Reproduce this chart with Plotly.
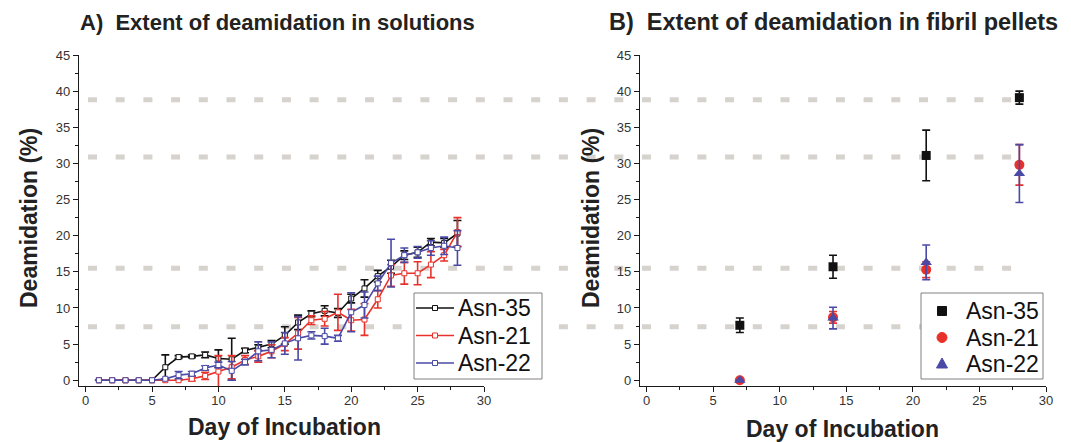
import plotly.graph_objects as go

# ---------------- data ----------------
days = list(range(1, 29))

asn35_sol = [0, 0, 0, 0, 0, 1.8, 3.2, 3.3, 3.5, 3.0, 2.9, 4.1, 4.5, 5.0, 6.2, 8.0, 9.2, 9.6, 9.3, 11.3, 12.7, 14.4, 15.7, 17.3, 17.7, 19.1, 19.0, 20.3]
asn35_sol_err = [0, 0, 0, 0, 0, 1.7, 0.2, 0.2, 0.4, 1.2, 2.9, 0.3, 0.4, 0.5, 1.2, 1.0, 0.4, 0.7, 0.6, 0.6, 1.2, 0.8, 0.9, 0.6, 0.7, 0.5, 0.6, 1.8]

asn21_sol = [0, 0, 0, 0, 0, 0, 0, 0.2, 0.6, 1.2, 1.8, 2.8, 3.3, 4.0, 5.0, 6.5, 8.3, 8.5, 9.4, 8.3, 8.4, 11.2, 14.5, 14.8, 14.8, 16.0, 17.3, 20.5]
asn21_sol_err = [0, 0, 0, 0, 0, 0, 0, 0.3, 0.5, 2.2, 1.6, 0.6, 0.8, 0.9, 0.9, 2.2, 0.6, 1.0, 2.5, 1.5, 2.2, 1.2, 1.5, 1.5, 1.6, 1.8, 0.8, 2.0]

asn22_sol = [0, 0, 0, 0, 0, 0.2, 0.7, 0.9, 1.7, 2.1, 1.3, 2.5, 4.0, 4.2, 5.1, 5.8, 6.2, 6.1, 5.8, 9.4, 10.4, 13.4, 16.2, 17.3, 17.7, 18.3, 18.6, 18.3]
asn22_sol_err = [0, 0, 0, 0, 0, 0, 0.5, 0.3, 0.3, 0.4, 1.3, 0.4, 1.3, 1.1, 1.5, 3.0, 0.5, 1.1, 0.4, 2.7, 1.8, 1.0, 3.3, 1.0, 0.8, 1.0, 1.2, 2.4]

pellet_days = [7, 14, 21, 28]
asn35_pel = [7.6, 15.7, 31.1, 39.1]
asn35_pel_err = [1.0, 1.6, 3.5, 0.9]
asn21_pel = [0.0, 8.7, 15.3, 29.8]
asn21_pel_err = [0.0, 0.8, 1.1, 2.8]
asn22_pel = [0.0, 8.6, 16.3, 28.6]
asn22_pel_err = [0.0, 1.5, 2.4, 4.0]

ref_levels = [7.4, 15.5, 30.9, 38.8]

series_names = ["Asn-35", "Asn-21", "Asn-22"]
colors = ["#111111", "#e8312a", "#4a4aa6"]

# ---------------- layout geometry ----------------
W, H = 1071, 442
ML, MR, MT, MB = 79, 25, 55, 56
PW = W - ML - MR
PH = H - MT - MB


def px_x(p):
    return (p - ML) / PW


def px_y(p):
    return (H - MB - p) / PH


FONT = "Liberation Sans, Arial, sans-serif"

fig = go.Figure()

sol_vals = [asn35_sol, asn21_sol, asn22_sol]
sol_errs = [asn35_sol_err, asn21_sol_err, asn22_sol_err]
for name, c, v, e in zip(series_names, colors, sol_vals, sol_errs):
    fig.add_trace(go.Scatter(
        x=days, y=v, name=name, mode="lines+markers",
        line=dict(color=c, width=1.6),
        marker=dict(symbol="square", size=5, color="white", line=dict(color=c, width=1)),
        error_y=dict(type="data", array=e, visible=True, color=c, thickness=1.6, width=4),
        xaxis="x", yaxis="y", showlegend=False,
    ))

pel_vals = [asn35_pel, asn21_pel, asn22_pel]
pel_errs = [asn35_pel_err, asn21_pel_err, asn22_pel_err]
symbols = ["square", "circle", "triangle-up"]
sizes = [9, 10, 10]
for name, c, v, e, s, sz in zip(series_names, colors, pel_vals, pel_errs, symbols, sizes):
    fig.add_trace(go.Scatter(
        x=pellet_days, y=v, name=name, mode="markers",
        marker=dict(symbol=s, size=sz, color=c),
        error_y=dict(type="data", array=e, visible=True, color=c, thickness=1.6, width=4),
        xaxis="x2", yaxis="y2", showlegend=False,
    ))

for lv in ref_levels:
    fig.add_shape(type="line", xref="paper", yref="y", x0=px_x(88), x1=px_x(1012), y0=lv, y1=lv,
                  line=dict(color="#d6d2ce", width=5, dash="9px,18.7px"), layer="below")

# ---------------- legends (drawn as boxes + keys + text) ----------------
LEG_FONT = dict(family=FONT, size=23, color="#111111")


def legend_box(x0, y0, x1, y1):
    fig.add_shape(type="rect", xref="paper", yref="paper",
                  x0=px_x(x0), x1=px_x(x1), y0=px_y(y1), y1=px_y(y0),
                  line=dict(color="#808080", width=1), fillcolor="white", layer="above")


def pix_shape(kind, cx, cy, half, color, fill, **kw):
    fig.add_shape(type=kind, xref="paper", yref="paper",
                  xsizemode="pixel", ysizemode="pixel",
                  xanchor=px_x(cx), yanchor=px_y(cy),
                  x0=-half, x1=half, y0=-half, y1=half,
                  line=dict(color=color, width=1), fillcolor=fill, layer="above", **kw)


# legend A
legend_box(414, 293, 542, 379)
rowsA = [308, 335.5, 363]
for name, c, ry in zip(series_names, colors, rowsA):
    fig.add_shape(type="line", xref="paper", yref="paper", x0=px_x(416), x1=px_x(454),
                  y0=px_y(ry), y1=px_y(ry), line=dict(color=c, width=1.6), layer="above")
    pix_shape("rect", 435, ry, 2.5, c, "white")
    fig.add_annotation(text=name, xref="paper", yref="paper", x=px_x(456), y=px_y(ry),
                       xanchor="left", yanchor="middle", showarrow=False, font=LEG_FONT)

# legend B
legend_box(921, 293, 1043, 379)
rowsB = [311, 337.5, 363.5]
for name, c, ry, s in zip(series_names, colors, rowsB, symbols):
    if s == "square":
        pix_shape("rect", 942, ry, 4.5, c, c)
    elif s == "circle":
        pix_shape("circle", 942, ry, 5, c, c)
    else:
        fig.add_shape(type="path", xref="paper", yref="paper",
                      xsizemode="pixel", ysizemode="pixel",
                      xanchor=px_x(942), yanchor=px_y(ry),
                      path="M -5.5 -4.5 L 5.5 -4.5 L 0 5.5 Z",
                      line=dict(color=c, width=1), fillcolor=c, layer="above")
    fig.add_annotation(text=name, xref="paper", yref="paper", x=px_x(964), y=px_y(ry),
                       xanchor="left", yanchor="middle", showarrow=False, font=LEG_FONT)

axis_common = dict(
    showgrid=False, zeroline=False, showline=True, linecolor="#1a1a1a", linewidth=1.3,
    ticks="outside", ticklen=5, tickwidth=1.2, tickcolor="#1a1a1a",
    tickfont=dict(family=FONT, size=13, color="#333333"),
    minor=dict(ticks="outside", ticklen=3, tickwidth=1, tickcolor="#1a1a1a", dtick=2.5),
)

dA = [0, px_x(484)]
dB = [px_x(640), 1]
fig.update_layout(
    width=W, height=H, autosize=False,
    margin=dict(l=ML, r=MR, t=MT, b=MB),
    paper_bgcolor="white", plot_bgcolor="white",
    font=dict(family=FONT, color="#222222"),
    xaxis=dict(domain=dA, range=[-0.5, 30], dtick=5, anchor="y", ticklabelstandoff=-3, **axis_common),
    yaxis=dict(domain=[0, 1], range=[-0.8, 45], dtick=5, anchor="x", **axis_common),
    xaxis2=dict(domain=dB, range=[-0.5, 30], dtick=5, anchor="y2", ticklabelstandoff=-3, **axis_common),
    yaxis2=dict(domain=[0, 1], range=[-0.8, 45], dtick=5, anchor="x2", **axis_common),
    showlegend=False,
)

axt_font = dict(family=FONT, size=23, color="#222222")
anns = [
    dict(text="<b>A)  Extent of deamidation in solutions</b>", x=px_x(78), y=px_y(22),
         xanchor="left", yanchor="middle", font=dict(family=FONT, size=22, color="#222222")),
    dict(text="<b>B)  Extent of deamidation in fibril pellets</b>", x=px_x(607), y=px_y(22),
         xanchor="left", yanchor="middle", font=dict(family=FONT, size=23.5, color="#222222")),
    dict(text="<b>Deamidation (%)</b>", x=px_x(29), y=px_y(218), textangle=-90,
         xanchor="center", yanchor="middle", font=axt_font),
    dict(text="<b>Deamidation (%)</b>", x=px_x(591), y=px_y(218), textangle=-90,
         xanchor="center", yanchor="middle", font=axt_font),
    dict(text="<b>Day of Incubation</b>", x=px_x(284), y=px_y(427),
         xanchor="center", yanchor="middle", font=axt_font),
    dict(text="<b>Day of Incubation</b>", x=px_x(842), y=px_y(429),
         xanchor="center", yanchor="middle", font=axt_font),
]
for a in anns:
    fig.add_annotation(xref="paper", yref="paper", showarrow=False, **a)

fig.write_html("out.html", config={"displayModeBar": False},
               post_script="document.body.style.margin='0px';")
